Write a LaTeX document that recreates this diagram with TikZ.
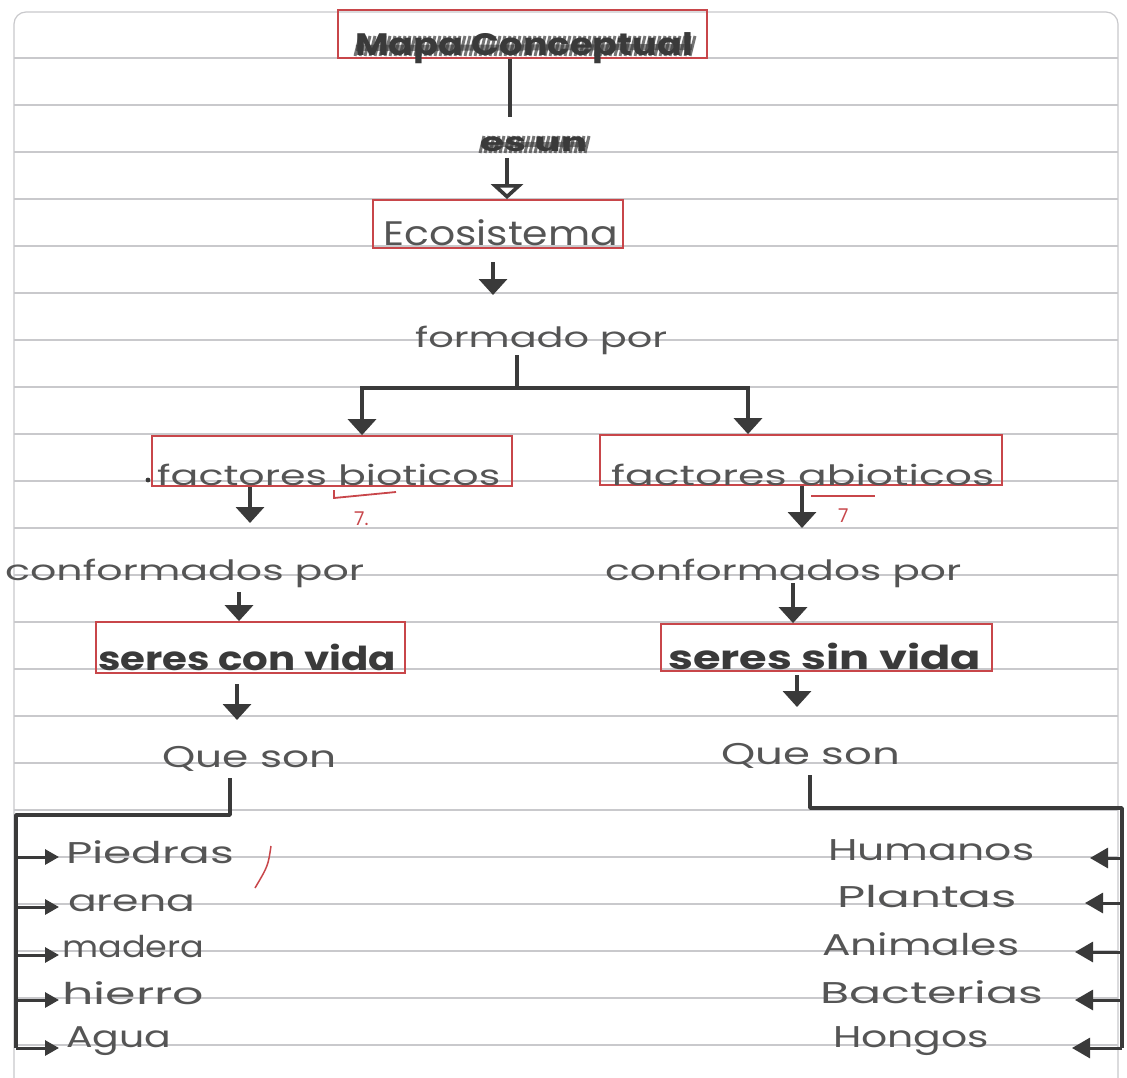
\documentclass[tikz,border=0pt]{standalone}
\usepackage{fontspec}
\setmainfont{Poppins}
\usetikzlibrary{arrows.meta}
\definecolor{ink}{HTML}{3A3A3A}
\definecolor{pencil}{HTML}{555555}
\definecolor{redpen}{HTML}{C8464A}
\definecolor{rulegray}{HTML}{C9C9CC}
% stretch a word horizontally to a given width (in pt), keeping its height
\newcommand\hw[2]{\resizebox{#1pt}{\height}{#2}}

\begin{document}
\begin{tikzpicture}[x=1pt,y=-1pt,
  box/.style={draw=redpen, line width=1.8pt, inner sep=0pt, rectangle},
  hand/.style={anchor=base west, inner sep=0pt, text=pencil,
               font=\fontsize{28}{30}\selectfont},
  bighand/.style={hand, font=\fontsize{34}{36}\selectfont},
  boldhand/.style={hand, text=ink, font=\fontsize{33}{35}\selectfont\bfseries},
  itemhand/.style={hand, font=\fontsize{30}{32}\selectfont},
  redmark/.style={anchor=base west, inner sep=0pt, text=redpen,
               font=\fontsize{19}{19}\selectfont},
  ln/.style={draw=ink, line width=3.6pt},
  arr/.style={ln, -{Triangle[width=28pt,length=16pt]}},
  openarr/.style={ln, -{Triangle[open,fill=white,width=32pt,length=15pt]}},
  larr/.style={draw=ink, line width=3pt, -{Triangle[width=15pt,length=14pt]}},
  rarr/.style={draw=ink, line width=3pt, -{Triangle[width=20pt,length=18pt]}},
  hatch/.style={draw=ink, line width=3pt, opacity=.7}
]
\useasboundingbox (0,0) rectangle (1127,1078);
\fill[white] (0,0) rectangle (1127,1078);

% ruled notebook sheet
\draw[rulegray, line width=1.2pt, rounded corners=12pt]
  (14,1100) -- (14,12) -- (1118,12) -- (1118,1100);
\foreach \k in {0,...,21}
  \draw[rulegray, line width=1.4pt] (14,{58+47*\k}) -- (1118,{58+47*\k});

% concept boxes
\node[box, minimum width=369pt, minimum height=48pt] (title)   at (522.5,34)   {};
\node[box, minimum width=250pt, minimum height=48pt] (eco)     at (498,224)    {};
\node[box, minimum width=360pt, minimum height=50pt] (bio)     at (332,461)    {};
\node[box, minimum width=402pt, minimum height=50pt] (abio)    at (801,460)    {};
\node[box, minimum width=309pt, minimum height=51pt] (vida)    at (250.5,647.5){};
\node[box, minimum width=331pt, minimum height=47pt] (sinvida) at (826.5,647.5){};

% scribbled heading and linking words
\node[hand, text=ink, font=\fontsize{31}{33}\selectfont\bfseries] (tmapa) at (355,56)
  {\hw{338}{Mapa Conceptual}};
\foreach \i in {0,...,67}
  \draw[hatch] ({355+5*\i},56) -- ({360+5*\i},36);
\draw[ink, line width=6pt, opacity=.6] (356,48) -- (692,47);
\node[hand, text=ink, font=\fontsize{26}{28}\selectfont\bfseries] (tesun) at (480,152)
  {\hw{107}{es un}};
\foreach \i in {0,...,21}
  \draw[hatch] ({480+5*\i},153) -- ({484+5*\i},136);
\draw[ink, line width=5pt, opacity=.6] (481,145) -- (586,145);

% concept texts
\node[bighand] (teco)   at (383,246) {\hw{235}{Ecosistema}};
\node[hand]    (tform)  at (415,347) {\hw{252}{formado por}};
\node[hand]    (tbio)   at (157,485) {\hw{343}{factores bioticos}};
\node[hand]    (tabio)  at (611,485) {\hw{383}{factores abioticos}};
\node[hand]    (tconfL) at (5,580)   {\hw{359}{conformados por}};
\node[hand]    (tconfR) at (605,580) {\hw{356}{conformados por}};
\node[boldhand] (tvida) at (98,670)  {\hw{298}{seres con vida}};
\node[boldhand] (tsin)  at (668,669) {\hw{313}{seres sin vida}};
\node[itemhand] (tqueL) at (162,767) {\hw{174}{Que son}};
\node[itemhand] (tqueR) at (721,764) {\hw{179}{Que son}};

% left list
\node[itemhand] (iL1) at (66,863)   {\hw{168}{Piedras}};
\node[itemhand] (iL2) at (68,911)   {\hw{127}{arena}};
\node[itemhand] (iL3) at (62,957)   {\hw{142}{madera}};
\node[itemhand] (iL4) at (62,1004)  {\hw{142}{hierro}};
\node[itemhand] (iL5) at (66,1047)  {\hw{105}{Agua}};
% right list
\node[itemhand] (iR1) at (828,860)  {\hw{206}{Humanos}};
\node[itemhand] (iR2) at (837,907)  {\hw{180}{Plantas}};
\node[itemhand] (iR3) at (822,955)  {\hw{197}{Animales}};
\node[itemhand] (iR4) at (820,1003) {\hw{223}{Bacterias}};
\node[itemhand] (iR5) at (833,1047) {\hw{156}{Hongos}};

% teacher's red marks
\fill[ink] (148,480) circle[radius=2.4pt];
\draw[redpen, line width=1.8pt] (334,490) -- (334,498) -- (396,492);
\node[redmark] (r1) at (354,525) {7.};
\draw[redpen, line width=2.4pt] (811,496) -- (875,496);
\node[redmark] (r2) at (838,522) {7};
\draw[redpen, line width=1.5pt] (271,846) .. controls (268,866) .. (255,888);

% connectors of the main chain
\coordinate (p1) at (510,117);
\draw[ln] (title.south -| p1) -- (p1);
\coordinate (p2) at (507,158);
\draw[openarr] (p2) -- (eco.north -| p2);
\coordinate (p3a) at (493,262);
\coordinate (p3b) at (493,295);
\draw[arr] (p3a) -- (p3b);

% branching to the two kinds of factors
\coordinate (b0) at (517,355);
\coordinate (b1) at (517,388);
\coordinate (bL) at (362,388);
\coordinate (bR) at (748,388);
\draw[ln] (b0) -- (b1);
\draw[arr] (b1) -| (bio.north -| bL);
\draw[arr] (b1) -| (abio.north -| bR);

% left column
\coordinate (q5) at (250,523);
\draw[arr] (bio.south -| q5) -- (q5);
\coordinate (q7) at (239,592);
\draw[arr] (q7) -- (vida.north -| q7);
\coordinate (q9a) at (237,684);
\coordinate (q9b) at (237,720);
\draw[arr] (q9a) -- (q9b);

% right column
\coordinate (q6) at (802,528);
\draw[arr] (abio.south -| q6) -- (q6);
\coordinate (q8) at (793,583);
\draw[arr] (q8) -- (sinvida.north -| q8);
\coordinate (q10a) at (797,675);
\coordinate (q10b) at (797,707);
\draw[arr] (q10a) -- (q10b);

% left bracket with its list arrows
\coordinate (lq) at (230,778);
\coordinate (ls) at (16,815);
\coordinate (le) at (16,1048);
\draw[ln, line join=round] (lq) |- (ls) -- (le);
\foreach \n/\y in {1/857, 2/907, 3/955, 4/1000, 5/1048}
  \draw[larr] (ls |- 0,\y) -- (59,\y);

% right bracket with its list arrows
\coordinate (rq) at (810,775);
\coordinate (rs) at (1122,808);
\coordinate (re) at (1122,1048);
\draw[ln, line join=round] (rq) |- (rs) -- (re);
\foreach \y/\t in {858/1090, 903/1085, 952/1075, 1000/1075, 1048/1072}
  \draw[rarr] (rs |- 0,\y) -- (\t,\y);
\end{tikzpicture}
\end{document}
